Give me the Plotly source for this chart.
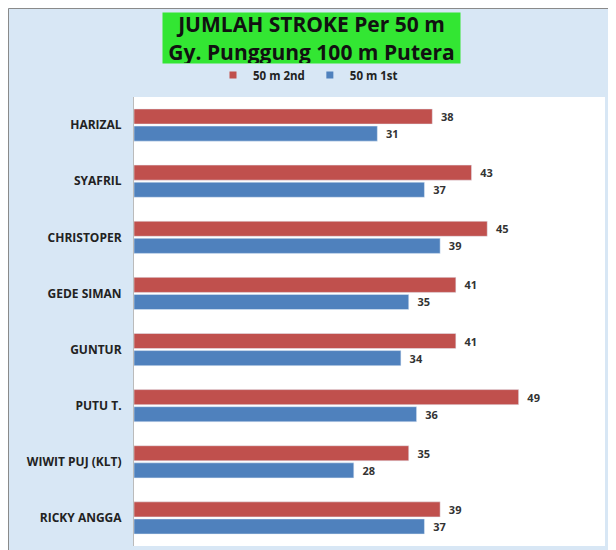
import plotly.graph_objects as go

names = ["HARIZAL", "SYAFRIL", "CHRISTOPER", "GEDE SIMAN", "GUNTUR", "PUTU T.", "WIWIT PUJ (KLT)", "RICKY ANGGA"]
second_50 = [38, 43, 45, 41, 41, 49, 35, 39]
first_50 = [31, 37, 39, 35, 34, 36, 28, 37]

RED = "#C0504D"
BLUE = "#4F81BD"
lbl_font = dict(family="Open Sans", size=11, color="#333333", weight="bold")

W, H = 608, 542
L, R, T, B = 126, 11, 89, 4
PW, PH = W - L - R, H - T - B

fig = go.Figure()
fig.add_trace(go.Bar(y=names, x=second_50, orientation="h", name="50 m 2nd",
                     marker_color=RED, text=second_50, texttemplate="  %{x}",
                     textposition="outside", textfont=lbl_font, cliponaxis=False,
                     showlegend=False))
fig.add_trace(go.Bar(y=names, x=first_50, orientation="h", name="50 m 1st",
                     marker_color=BLUE, text=first_50, texttemplate="  %{x}",
                     textposition="outside", textfont=lbl_font, cliponaxis=False,
                     showlegend=False))
for nm, col in [("50 m 2nd", RED), ("50 m 1st", BLUE)]:
    fig.add_trace(go.Scatter(x=[None], y=[None], mode="markers", name=nm,
                             marker=dict(symbol="square", size=7, color=col)))

fig.update_layout(
    width=W, height=H,
    margin=dict(l=L, r=R, t=T, b=B, autoexpand=False),
    paper_bgcolor="#D8E7F5",
    plot_bgcolor="white",
    barmode="group", bargap=0.39, bargroupgap=0.12,
    showlegend=True,
    legend=dict(orientation="h", xref="container", yref="container",
                x=300 / W, xanchor="center", y=1 - 67 / H, yanchor="middle",
                font=dict(family="Open Sans", size=11.5, color="#222222", weight="bold"),
                bgcolor="rgba(0,0,0,0)", traceorder="normal",
                itemwidth=30, tracegroupgap=0),
    xaxis=dict(range=[0, 60], visible=False, showgrid=False, zeroline=False,
               automargin=False),
    yaxis=dict(categoryorder="array", categoryarray=names, autorange="reversed",
               showgrid=False, zeroline=False, showline=True, linecolor="#BBBBBB",
               ticks="", ticklabelstandoff=9, automargin=False,
               tickfont=dict(family="Open Sans", size=12, color="#222222", weight="bold")),
    annotations=[dict(
        xref="paper", yref="paper", x=(303 - L) / PW, y=1 + (T - 30) / PH,
        xanchor="center", yanchor="middle", showarrow=False,
        text="JUMLAH STROKE Per 50 m<br>Gy. Punggung 100 m Putera",
        font=dict(family="Open Sans", size=21, color="#111111", weight="bold"),
        bgcolor="#33E633", width=297, height=50, borderpad=0,
    )],
    shapes=[dict(type="rect", xref="paper", yref="paper",
                 x0=-(L - 0.5) / PW, x1=1 + (R + 10) / PW,
                 y0=-(B + 10) / PH, y1=1 + (T - 0.5) / PH,
                 line=dict(color="#8A8A8A", width=1), fillcolor="rgba(0,0,0,0)",
                 layer="below")],
)

fig.write_html("out.html")
